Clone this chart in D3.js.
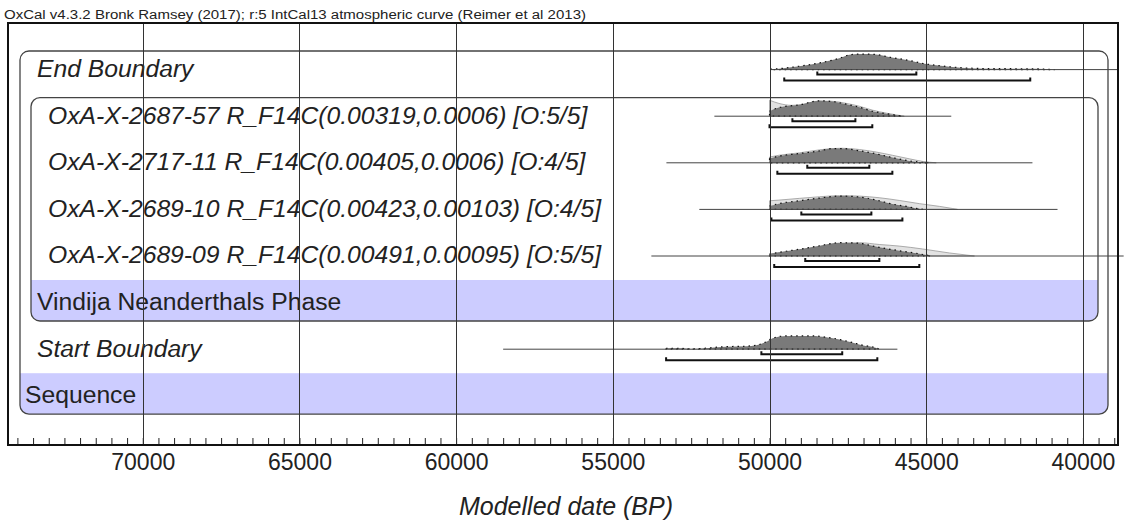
<!DOCTYPE html>
<html>
<head>
    <meta charset="utf-8">
    <title>OxCal Sequence Plot</title>
    <style>
        body {
            margin: 0;
            background: #fff;
            font-family: "Liberation Sans", Arial, sans-serif;
        }

        .grid line {
            stroke: #333;
            stroke-width: 1;
            shape-rendering: crispEdges;
        }

        .minor line {
            stroke: #222;
            stroke-width: 1;
        }

        .grid text {
            font-size: 23px;
            fill: #222;
        }

        .box {
            fill: none;
            stroke: #444;
            stroke-width: 1.3;
        }

        .band {
            fill: #ccccff;
        }

        .like {
            fill: #e2e2e2;
            stroke: #999;
            stroke-width: 0.8;
        }

        .post {
            fill: #7a7a7a;
            stroke: #111;
            stroke-width: 1.2;
            stroke-dasharray: 1.5 4;
        }

        .range-line {
            stroke: #444;
            stroke-width: 1;
        }

        .hpd {
            fill: none;
            stroke: #111;
            stroke-width: 2;
        }

        .label {
            font-size: 24.7px;
            fill: #222;
        }
    </style>
    <script src="https://d3js.org/d3.v7.min.js"></script>
</head>

<body>

<script type="text/javascript">
    // ---- data (years BP) ----
    var header = "OxCal v4.3.2 Bronk Ramsey (2017); r:5 IntCal13 atmospheric curve (Reimer et al 2013)";
    var axisTitle = "Modelled date (BP)";
    var tickYears = [70000, 65000, 60000, 55000, 50000, 45000, 40000];

    var rowLabels = [
        "End Boundary",
        "OxA-X-2687-57 R_F14C(0.00319,0.0006) [O:5/5]",
        "OxA-X-2717-11 R_F14C(0.00405,0.0006) [O:4/5]",
        "OxA-X-2689-10 R_F14C(0.00423,0.00103) [O:4/5]",
        "OxA-X-2689-09 R_F14C(0.00491,0.00095) [O:5/5]",
        "Vindija Neanderthals Phase",
        "Start Boundary",
        "Sequence"
    ];
    var rowTypes = ["boundary", "date", "date", "date", "date", "phase", "boundary", "sequence"];

    // extent of the thin range line drawn for each row
    var lineFrom = [49970, 51760, 53290, 52240, 53770, null, 58500, null];
    var lineTo = [38880, 44200, 41610, 40810, 38700, null, 45920, null];

    // highest posterior density ranges
    var hpd68 = [[48475, 45315], [49270, 47260], [48795, 46815], [48985, 46750], [48860, 46495], null, [50260, 47680], null];
    var hpd95 = [[49530, 41680], [50000, 46720], [49750, 46080], [49940, 45760], [49850, 45220], null, [53300, 46560], null];

    // [year, relative probability 0-100]
    var endPost = [[49970, 3], [49700, 6], [49050, 21], [48400, 42], [47800, 69], [47400, 94], [47000, 97],
        [46600, 94], [46100, 75], [45500, 56], [45100, 38], [44600, 25], [43900, 12], [42900, 6],
        [41800, 5], [41200, 3], [40900, 0]];

    var ox268757Like = [[50000, 100], [49700, 80], [49300, 68], [49000, 72], [48400, 95], [48000, 93],
        [47550, 80], [47130, 62], [46720, 38], [46270, 19], [45950, 8], [45700, 0]];
    var ox268757Post = [[50000, 31], [49700, 54], [49050, 71], [48400, 96], [48000, 92], [47550, 75],
        [47130, 56], [46720, 31], [46270, 16], [45950, 6], [45760, 0]];

    var ox271711Like = [[50000, 36], [49700, 47], [49050, 62], [48400, 81], [48000, 89], [47680, 91],
        [47130, 83], [46590, 67], [46080, 47], [45540, 25], [45120, 9], [44680, 0]];
    var ox271711Post = [[50000, 27], [49700, 42], [49050, 58], [48400, 75], [48000, 89], [47680, 89],
        [47130, 75], [46590, 56], [46080, 33], [45540, 12], [45120, 3], [44900, 0]];

    var ox268910Like = [[50000, 54], [49700, 58], [49050, 69], [48400, 79], [47770, 86], [47130, 83],
        [46500, 73], [45860, 56], [45220, 36], [44580, 19], [44170, 6], [44000, 0]];
    var ox268910Post = [[50000, 21], [49700, 36], [49050, 54], [48400, 71], [47770, 83], [47360, 81],
        [46910, 71], [46500, 54], [46080, 33], [45630, 19], [45320, 6], [45100, 0]];

    var ox268909Like = [[50000, 12], [49050, 36], [48400, 54], [47770, 75], [47130, 83], [46500, 72],
        [45860, 62], [45120, 44], [44260, 19], [43460, 0]];
    var ox268909Post = [[50000, 12], [49700, 23], [49050, 42], [48400, 64], [47770, 83], [47230, 81],
        [46500, 54], [45860, 33], [45320, 17], [44840, 0]];

    var startPost = [[53300, 6], [52900, 6], [52500, 2], [51400, 16], [50740, 19], [50420, 25], [50100, 47],
        [49900, 69], [49460, 83], [48630, 83], [48190, 75], [47770, 61], [47360, 42], [47040, 25],
        [46590, 8], [46500, 0]];

    var likes = [null, ox268757Like, ox271711Like, ox268910Like, ox268909Like, null, null, null];
    var posts = [endPost, ox268757Post, ox271711Post, ox268910Post, ox268909Post, null, startPost, null];

    // ---- layout ----
    var width = 1124, height = 525;
    var frame = {left: 8, right: 1118, top: 23, bottom: 445};

    var svg = d3.select("body").append("svg")
            .attr("width", width)
            .attr("height", height);

    var x = d3.scaleLinear().domain([74300, 38880]).range([frame.left, frame.right]);
    var y = d3.scaleBand().domain(d3.range(rowLabels.length)).range([47, 419.8]);
    var h = d3.scaleLinear().domain([0, 100]).range([0, 16]);

    function base(i) {
        return y(i) + 22.6;
    }

    var bandH = 41;

    // header
    svg.append("text")
            .attr("x", 4)
            .attr("y", 19)
            .attr("textLength", 582)
            .attr("lengthAdjust", "spacingAndGlyphs")
            .style("font-size", "12.5px")
            .style("fill", "#222")
            .text(header);

    // group boxes: outer sequence, inner phase
    var boxes = [
        {first: 0, last: 7, left: 20, right: 1108, id: "clip-seq"},
        {first: 1, last: 5, left: 31, right: 1098, id: "clip-phase"}
    ];

    var defs = svg.append("defs");
    boxes.forEach(function (b) {
        b.top = y(b.first) + 4;
        b.bottom = y(b.last) + bandH;
        defs.append("clipPath").attr("id", b.id)
                .append("rect")
                .attr("x", b.left).attr("y", b.top)
                .attr("width", b.right - b.left).attr("height", b.bottom - b.top)
                .attr("rx", 9).attr("ry", 9);
    });

    boxes.forEach(function (b) {
        svg.append("rect")
                .attr("class", "band")
                .attr("clip-path", "url(#" + b.id + ")")
                .attr("x", b.left)
                .attr("y", y(b.last))
                .attr("width", b.right - b.left)
                .attr("height", bandH);
    });

    boxes.forEach(function (b) {
        svg.append("rect")
                .attr("class", "box")
                .attr("x", b.left).attr("y", b.top)
                .attr("width", b.right - b.left).attr("height", b.bottom - b.top)
                .attr("rx", 9).attr("ry", 9);
    });

    // row labels
    var indent = {boundary: 37, date: 48, phase: 37, sequence: 25};
    svg.selectAll("text.label")
            .data(rowLabels)
            .enter().append("text")
            .attr("class", "label")
            .attr("x", function (d, i) { return indent[rowTypes[i]]; })
            .attr("y", function (d, i) { return y(i) + 30; })
            .style("font-style", function (d, i) {
                return (rowTypes[i] === "boundary" || rowTypes[i] === "date") ? "italic" : "normal";
            })
            .text(function (d) { return d; });

    // distributions
    function area(i) {
        return d3.area()
                .x(function (d) { return x(d[0]); })
                .y0(base(i))
                .y1(function (d) { return base(i) - h(d[1]); })
                .curve(d3.curveMonotoneX);
    }

    var dist = svg.append("g").attr("class", "dists");

    rowLabels.forEach(function (label, i) {
        if (likes[i])
            dist.append("path").attr("class", "like").attr("d", area(i)(likes[i]));
        if (posts[i])
            dist.append("path").attr("class", "post").attr("d", area(i)(posts[i]));
        if (lineFrom[i] !== null)
            dist.append("line").attr("class", "range-line")
                    .attr("x1", x(lineFrom[i])).attr("x2", x(lineTo[i]))
                    .attr("y1", base(i)).attr("y2", base(i));

        [[hpd68[i], 5], [hpd95[i], 11]].forEach(function (r) {
            if (!r[0]) return;
            var yy = base(i) + r[1];
            dist.append("path").attr("class", "hpd")
                    .attr("d", "M" + x(r[0][0]) + "," + (yy - 3) + "V" + yy +
                            "H" + x(r[0][1]) + "V" + (yy - 3));
        });
    });

    // minor ticks
    svg.append("g")
            .attr("class", "minor")
            .attr("transform", "translate(0," + frame.bottom + ")")
            .call(d3.axisBottom(x)
                    .tickValues(d3.range(39000, 74500, 500))
                    .tickSize(-7)
                    .tickFormat(""))
            .call(function (g) { g.select(".domain").remove(); });

    // major ticks / grid lines with labels
    svg.append("g")
            .attr("class", "grid")
            .attr("transform", "translate(0," + frame.bottom + ")")
            .call(d3.axisBottom(x)
                    .tickValues(tickYears)
                    .tickSize(-(frame.bottom - frame.top))
                    .tickPadding(9)
                    .tickFormat(d3.format("d")))
            .call(function (g) {
                g.select(".domain").remove();
                g.selectAll("text").style("font-family", null).style("font-size", null);
            });

    // frame
    svg.append("rect")
            .attr("x", frame.left)
            .attr("y", frame.top)
            .attr("width", frame.right - frame.left)
            .attr("height", frame.bottom - frame.top)
            .style("fill", "none")
            .style("stroke", "#111")
            .style("stroke-width", 2);

    // axis title
    svg.append("text")
            .attr("x", 566)
            .attr("y", 515)
            .attr("text-anchor", "middle")
            .style("font-size", "25px")
            .style("font-style", "italic")
            .style("fill", "#222")
            .text(axisTitle);
</script>

</body>
</html>
